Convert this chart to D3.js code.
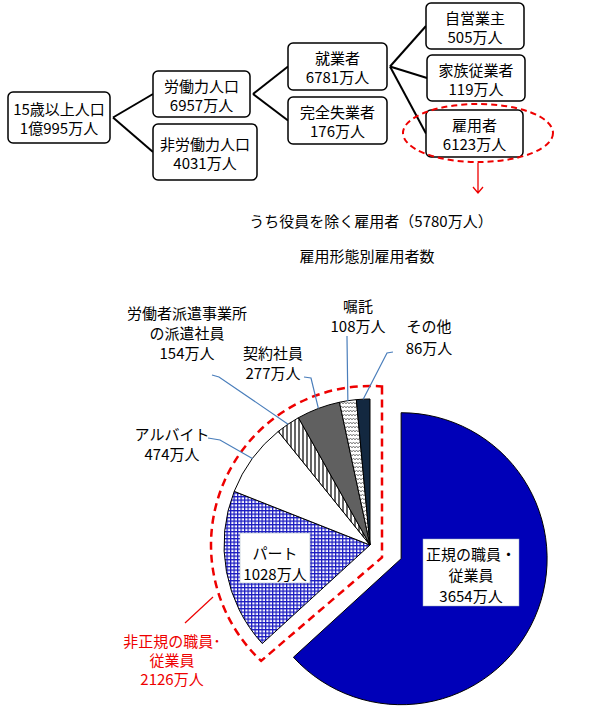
<!DOCTYPE html>
<html>
<head>
<meta charset="utf-8">
<script src="https://cdn.jsdelivr.net/npm/d3@7/dist/d3.min.js"></script>
<style>
  body { margin: 0; background: #fff; }
  text { font-family: "Noto Sans CJK JP", "Noto Sans", sans-serif; font-size: 15px; fill: #000; }
</style>
</head>
<body>
<div id="chart"></div>
<script>
// tree of the population figures
const treeNames = ['15歳以上人口', '労働力人口', '非労働力人口', '就業者', '完全失業者', '自営業主', '家族従業者', '雇用者'];
const treeValues = ['1億995万人', '6957万人', '4031万人', '6781万人', '176万人', '505万人', '119万人', '6123万人'];
const treeLinks = [[0, 1], [0, 2], [1, 3], [1, 4], [3, 5], [3, 6], [3, 7]];

// pie: employees by type of employment
const pieNames = ['正規の職員・従業員', 'パート', 'アルバイト', '労働者派遣事業所の派遣社員', '契約社員', '嘱託', 'その他'];
const pieValues = [3654, 1028, 474, 154, 277, 108, 86];
const pieLabels = [
  ['正規の職員・', '従業員', '3654万人'],
  ['パート', '1028万人'],
  ['アルバイト', '474万人'],
  ['労働者派遣事業所', 'の派遣社員', '154万人'],
  ['契約社員', '277万人'],
  ['嘱託', '108万人'],
  ['その他', '86万人']
];
const subTitle = 'うち役員を除く雇用者（5780万人）';
const pieTitle = '雇用形態別雇用者数';
const irregularLabel = ['非正規の職員･', '従業員', '2126万人'];

const W = 612, H = 719;
const svg = d3.select('#chart').append('svg').attr('width', W).attr('height', H);

// ---- boxes layout [x, y, w, h]
const boxes = [
  [8, 92, 102, 51],
  [153, 71, 97, 46],
  [153, 124, 104, 56],
  [288, 43, 99, 47],
  [288, 97, 99, 47],
  [426, 3, 98, 46],
  [427, 55, 98, 46],
  [426, 110, 97, 47]
];

// connector lines
treeLinks.forEach(([a, b]) => {
  const A = boxes[a], B = boxes[b];
  svg.append('line')
    .attr('x1', A[0] + A[2] + 3).attr('y1', A[1] + A[3] / 2)
    .attr('x2', B[0]).attr('y2', B[1] + B[3] / 2)
    .attr('stroke', '#000').attr('stroke-width', 2);
});

const nodes = svg.append('g').selectAll('g').data(treeNames).join('g')
  .attr('transform', (d, i) => `translate(${boxes[i][0]},${boxes[i][1]})`);
nodes.append('rect')
  .attr('width', (d, i) => boxes[i][2]).attr('height', (d, i) => boxes[i][3])
  .attr('rx', 5).attr('fill', '#fff').attr('stroke', '#000').attr('stroke-width', 1.5);
nodes.append('text')
  .attr('text-anchor', 'middle')
  .attr('x', (d, i) => boxes[i][2] / 2)
  .attr('y', (d, i) => boxes[i][3] / 2 - 9)
  .attr('dominant-baseline', 'central')
  .text(d => d);
nodes.append('text')
  .attr('text-anchor', 'middle')
  .attr('x', (d, i) => boxes[i][2] / 2)
  .attr('y', (d, i) => boxes[i][3] / 2 + 10)
  .attr('dominant-baseline', 'central')
  .text((d, i) => treeValues[i]);

// red dashed ellipse around 雇用者 and arrow
svg.append('ellipse').attr('cx', 478).attr('cy', 133).attr('rx', 75).attr('ry', 29)
  .attr('fill', 'none').attr('stroke', '#e00').attr('stroke-width', 2).attr('stroke-dasharray', '6,4');
svg.append('path').attr('d', 'M478,163V193M473,187L478,193L483,187')
  .attr('fill', 'none').attr('stroke', '#e00').attr('stroke-width', 1.3);

svg.append('text').attr('x', 371).attr('y', 220).attr('text-anchor', 'middle')
  .attr('dominant-baseline', 'central').text(subTitle);
svg.append('text').attr('x', 367).attr('y', 255).attr('text-anchor', 'middle')
  .attr('dominant-baseline', 'central').text(pieTitle);

// ---- patterns
const defs = svg.append('defs');
const pGrid = defs.append('pattern').attr('id', 'grid').attr('patternUnits', 'userSpaceOnUse')
  .attr('width', 3.5).attr('height', 3.5);
pGrid.append('rect').attr('width', 3.5).attr('height', 3.5).attr('fill', '#fff');
pGrid.append('path').attr('d', 'M0,0.6H3.5M0.6,0V3.5').attr('stroke', '#1a1ac0').attr('stroke-width', 1.3);

const pStripe = defs.append('pattern').attr('id', 'stripe').attr('patternUnits', 'userSpaceOnUse')
  .attr('width', 4).attr('height', 4);
pStripe.append('rect').attr('width', 4).attr('height', 4).attr('fill', '#fff');
pStripe.append('path').attr('d', 'M1,0V4').attr('stroke', '#333').attr('stroke-width', 1.5);

const pZig = defs.append('pattern').attr('id', 'zig').attr('patternUnits', 'userSpaceOnUse')
  .attr('width', 6).attr('height', 4);
pZig.append('rect').attr('width', 6).attr('height', 4).attr('fill', '#fff');
pZig.append('path').attr('d', 'M0,3L1.5,1L3,3L4.5,1L6,3').attr('fill', 'none')
  .attr('stroke', '#666').attr('stroke-width', 0.8);

const fills = ['#0000b8', 'url(#grid)', '#fff', 'url(#stripe)', '#606060', 'url(#zig)', '#132840'];

// ---- pie
const cx = 370, cy = 545, r = 146, explode = 34;
const pie = d3.pie().sort(null).value(d => d);
const arcs = pie(pieValues);
const arc = d3.arc().innerRadius(0).outerRadius(r);

const offset = a => {
  if (a.index !== 0) return [0, 0];
  const m = (a.startAngle + a.endAngle) / 2;
  return [explode * Math.sin(m), -explode * Math.cos(m)];
};

const pg = svg.append('g').attr('transform', `translate(${cx},${cy})`);
pg.selectAll('path.slice').data(arcs).join('path')
  .attr('class', 'slice')
  .attr('transform', d => `translate(${offset(d)})`)
  .attr('d', arc)
  .attr('fill', (d, i) => fills[i])
  .attr('stroke', '#000').attr('stroke-width', 1);

// red dashed outline round the non-regular slices
const a0 = arcs[1].startAngle, pad = 12, R2 = 159;
const ex = Math.sin(a0), ey = -Math.cos(a0);
const nrm = [-ey, ex][0] >= 0 ? [-ey, ex] : [ey, -ex]; // outward normal of the start edge
const tC = (nrm[0] * pad - pad) / ex;
const cornerPt = [pad, nrm[1] * pad + tC * ey];
const tE = Math.sqrt(R2 * R2 - pad * pad);
const lowPt = [nrm[0] * pad + tE * ex, nrm[1] * pad + tE * ey];
const topPt = [pad, -Math.sqrt(R2 * R2 - pad * pad)];
pg.append('path')
  .attr('d', `M${topPt}L${cornerPt}L${lowPt}A${R2},${R2} 0 0 1 ${topPt}Z`)
  .attr('fill', 'none').attr('stroke', '#e00').attr('stroke-width', 2.5).attr('stroke-dasharray', '8,5');

// leader lines to the small slices: elbow points, end on the slice rim
const leaders = {
  2: [[208, 438], [220, 440]],
  3: [[212, 375], [219, 377]],
  4: [[304, 377], [311, 378]],
  5: [[347, 336], [347, 338]],
  6: [[393, 352], [387, 353]]
};
Object.keys(leaders).forEach(k => {
  const a = arcs[+k], m = (a.startAngle + a.endAngle) / 2;
  const end = [cx + r * Math.sin(m), cy - r * Math.cos(m)];
  const pts = leaders[k].concat([end]);
  svg.append('path').attr('d', d3.line()(pts))
    .attr('fill', 'none').attr('stroke', '#4a7ebb').attr('stroke-width', 1.2);
});

// label positions [center x, first line y, line step]
const labelPos = [
  [471, 553, 21],
  [275, 552, 21],
  [172, 433, 20],
  [187, 312, 20],
  [273, 352, 20],
  [358, 305, 20],
  [429, 325, 22]
];

// white boxes behind the two inner labels
[[423, 539, 96, 67], [240, 533, 70, 50]].forEach(b => {
  svg.append('rect').attr('x', b[0]).attr('y', b[1]).attr('width', b[2]).attr('height', b[3])
    .attr('fill', '#fff').attr('stroke', '#9ab').attr('stroke-width', 0.5);
});

pieLabels.forEach((lines, i) => {
  const [x, y, s] = labelPos[i];
  const t = svg.append('text').attr('text-anchor', 'middle');
  lines.forEach((ln, j) => {
    t.append('tspan').attr('x', x).attr('y', y + j * s).attr('dominant-baseline', 'central').text(ln);
  });
});

// non-regular total label
svg.append('line').attr('x1', 213).attr('y1', 597).attr('x2', 185).attr('y2', 623)
  .attr('stroke', '#e00').attr('stroke-width', 1.2);
const tr = svg.append('text').attr('text-anchor', 'middle').style('fill', '#e00');
irregularLabel.forEach((ln, j) => {
  tr.append('tspan').attr('x', 172).attr('y', 640 + j * 19).attr('dominant-baseline', 'central')
    .style('fill', '#e00').text(ln);
});
</script>
</body>
</html>
